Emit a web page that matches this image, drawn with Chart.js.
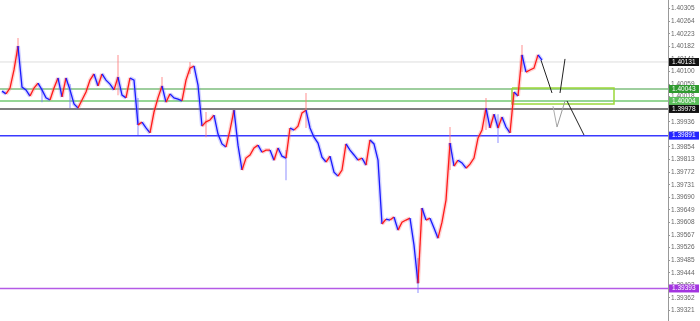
<!DOCTYPE html>
<html>
<head>
<meta charset="utf-8">
<script src="https://cdn.jsdelivr.net/npm/chart.js@4.4.0/dist/chart.umd.min.js"></script>
<style>
  html, body { margin: 0; padding: 0; background: #fff; }
  #wrap { width: 700px; height: 321px; }
</style>
</head>
<body>
<div id="wrap"><canvas id="myChart" width="700" height="321"></canvas></div>
<script>
// closing prices, one per bar
const closes = [
  1.40036, 1.40027, 1.40046, 1.40105, 1.40183, 1.40049, 1.40040, 1.40020, 1.40046, 1.40062,
  1.40040, 1.40014, 1.40007, 1.40046, 1.40079, 1.40017, 1.40079, 1.40040, 1.39994, 1.39981,
  1.40007, 1.40033, 1.40072, 1.40092, 1.40053, 1.40092, 1.40072, 1.40059, 1.40040, 1.40082,
  1.40023, 1.40014, 1.40079, 1.40072, 1.39926, 1.39935, 1.39916, 1.39900, 1.39968, 1.40014,
  1.40053, 1.40000, 1.40027, 1.40014, 1.40010, 1.40004, 1.40072, 1.40111, 1.40118, 1.40056,
  1.39922, 1.39936, 1.39942, 1.39958, 1.39896, 1.39864, 1.39854, 1.39909, 1.39974, 1.39860,
  1.39779, 1.39818, 1.39828, 1.39851, 1.39860, 1.39837, 1.39844, 1.39844, 1.39811, 1.39851,
  1.39824, 1.39818, 1.39916, 1.39909, 1.39922, 1.39965, 1.39974, 1.39916, 1.39886, 1.39867,
  1.39821, 1.39805, 1.39824, 1.39772, 1.39759, 1.39779, 1.39864, 1.39844, 1.39828, 1.39811,
  1.39818, 1.39795, 1.39877, 1.39864, 1.39811, 1.39603, 1.39619, 1.39616, 1.39626, 1.39583,
  1.39609, 1.39616, 1.39622, 1.39534, 1.39410, 1.39655, 1.39616, 1.39622, 1.39590, 1.39557,
  1.39609, 1.39681, 1.39867, 1.39792, 1.39811, 1.39802, 1.39785, 1.39798, 1.39818, 1.39883,
  1.39909, 1.39981, 1.39916, 1.39961, 1.39916, 1.39952, 1.39919, 1.39900, 1.40033, 1.40020,
  1.40154, 1.40098, 1.40105, 1.40111, 1.40154, 1.40137
];

// long wicks that stick out of the price path
const wickBars = [4, 10, 17, 29, 34, 40, 47, 51, 71, 76, 104, 112, 121, 124, 130];
const wickHigh = [1.40209, 1.40046, 1.40059, 1.40154, 1.40014, 1.40082, 1.40131, 1.39968, 1.39844, 1.40030, 1.39492, 1.39919, 1.40014, 1.39961, 1.40186];
const wickLow  = [1.40150, 1.40000, 1.39981, 1.40023, 1.39893, 1.40040, 1.40092, 1.39886, 1.39746, 1.39916, 1.39378, 1.39779, 1.39909, 1.39867, 1.40098];

// right price scale
const tickValues = [
  1.40305, 1.40264, 1.40223, 1.40182, 1.40141, 1.40100, 1.40059, 1.40018, 1.39977, 1.39936,
  1.39895, 1.39854, 1.39813, 1.39772, 1.39731, 1.39690, 1.39649, 1.39608, 1.39567, 1.39526,
  1.39485, 1.39444, 1.39403, 1.39362, 1.39321
];

// horizontal levels
const levelNames  = ["bid", "green", "lightgreen", "black", "blue", "purple"];
const levelValues = [1.40131, 1.40043, 1.40004, 1.39978, 1.39891, 1.39393];
const levelColors = ["#dddddd", "#3e9e3e", "#96d696", "#555555", "#3a3aff", "#b45ae6"];
const levelWidths = [1, 1.2, 2, 1.5, 1.5, 1.5];
const tagColors   = ["#111111", "#2f9a2f", "#5cbf5c", "#111111", "#2323ff", "#a335e0"];

// zone box (bar index range, price range)
const boxFrom = 127.5, boxTo = 153;
const boxTop = 1.40046, boxBottom = 1.39994;

// projected path segments: [x1, y1, x2, y2] in bar index / price
const projSegments = [
  [134.75, 1.40137, 137.5, 1.40030],
  [139.5, 1.40030, 140.75, 1.40141],
  [137.75, 1.39987, 138.75, 1.39919],
  [138.75, 1.39919, 140.75, 1.40004],
  [141.25, 1.40004, 145.5, 1.39893]
];
const projColors = ["#222222", "#222222", "#aaaaaa", "#999999", "#222222"];

const RED = "#ff1a1a", BLUE = "#1a1aff";
const upDown = (c, up, down) => c.p1.parsed.y >= c.p0.parsed.y ? up : down;

const pricePts = closes.map((v, i) => ({ x: i, y: v }));

const wickUpPts = [], wickDownPts = [];
wickBars.forEach((b, k) => {
  const target = closes[b] >= closes[b - 1] ? wickUpPts : wickDownPts;
  target.push({ x: b, y: wickHigh[k] }, { x: b, y: wickLow[k] }, { x: b, y: null });
});

const datasets = [];
datasets.push({
  data: pricePts, borderWidth: 1.3, pointRadius: 0,
  segment: { borderColor: c => upDown(c, RED, BLUE) }
});
datasets.push({
  data: pricePts, borderWidth: 4, pointRadius: 0,
  segment: { borderColor: c => upDown(c, "rgba(255,110,110,0.3)", "rgba(110,110,255,0.3)") }
});
datasets.push({ data: wickUpPts, borderColor: "rgba(255,120,120,0.55)", borderWidth: 1.5, pointRadius: 0, spanGaps: false });
datasets.push({ data: wickDownPts, borderColor: "rgba(120,120,255,0.55)", borderWidth: 1.5, pointRadius: 0, spanGaps: false });

projSegments.forEach((s, k) => {
  datasets.push({
    data: [{ x: s[0], y: s[1] }, { x: s[2], y: s[3] }],
    borderColor: projColors[k], borderWidth: 1, pointRadius: 0
  });
});

datasets.push({
  data: [
    { x: boxFrom, y: boxTop }, { x: boxTo, y: boxTop }, { x: boxTo, y: boxBottom },
    { x: boxFrom, y: boxBottom }, { x: boxFrom, y: boxTop }
  ],
  borderColor: "#9bd83a", borderWidth: 1.5, pointRadius: 0, tension: 0
});

levelValues.forEach((v, k) => {
  datasets.push({
    label: levelNames[k],
    data: [{ x: -5, y: v }, { x: 200, y: v }],
    borderColor: levelColors[k], borderWidth: levelWidths[k], pointRadius: 0
  });
});

// price tags on the right axis
const tagPlugin = {
  id: "tags",
  afterDraw(chart) {
    const y = chart.scales.y;
    const c = chart.ctx;
    c.save();
    c.font = "6.5px 'Liberation Sans', Arial, sans-serif";
    c.textBaseline = "middle";
    levelValues.forEach((v, k) => {
      const py = y.getPixelForValue(v);
      c.fillStyle = tagColors[k];
      c.fillRect(y.left + 1, py - 4, 30, 8);
      c.fillStyle = "#ffffff";
      c.fillText(v.toFixed(5), y.left + 4, py);
    });
    c.restore();
  }
};

new Chart(document.getElementById("myChart"), {
  type: "line",
  data: { datasets },
  options: {
    responsive: false,
    animation: false,
    events: [],
    layout: { padding: 0 },
    plugins: { legend: { display: false }, tooltip: { enabled: false } },
    scales: {
      x: { type: "linear", display: false, min: -0.5, max: 166.5 },
      y: {
        position: "right",
        min: 1.39287,
        max: 1.40333,
        afterBuildTicks: s => { s.ticks = tickValues.map(v => ({ value: v })); },
        afterFit: s => { s.width = 32; s.paddingTop = 0; s.paddingBottom = 0; },
        grid: { drawOnChartArea: false, drawTicks: true, tickLength: 2, color: "#999" },
        border: { display: true, color: "#999", width: 1 },
        ticks: {
          padding: 1,
          color: "#666",
          font: { size: 6.5, family: "'Liberation Sans', Arial, sans-serif" },
          callback: v => v.toFixed(5)
        }
      }
    }
  },
  plugins: [tagPlugin]
});
</script>
</body>
</html>
